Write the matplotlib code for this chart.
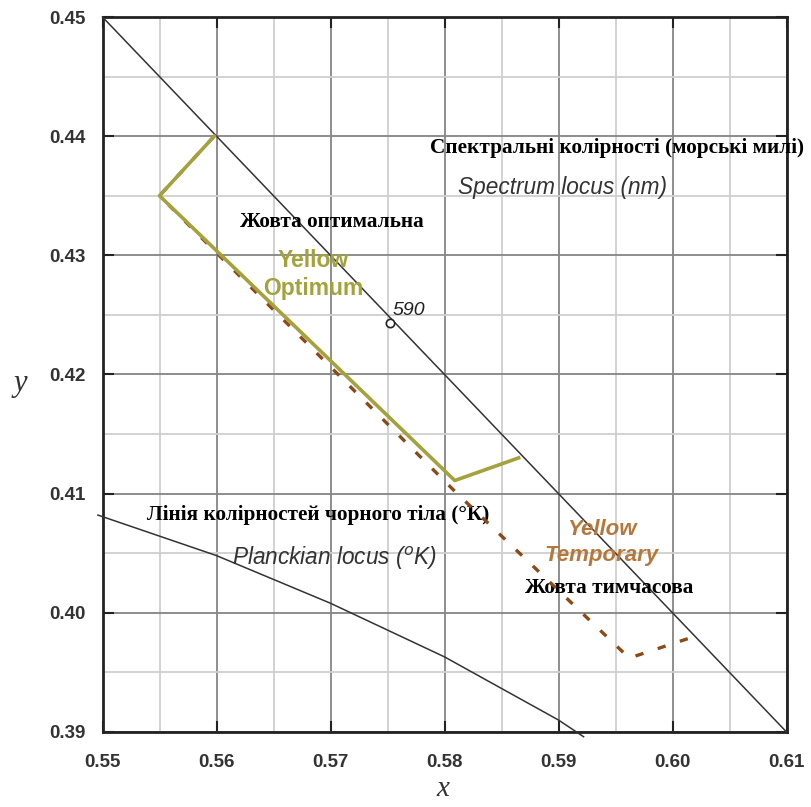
import matplotlib.pyplot as plt

# Спектральний локус (x + y = 1 в цій області) і точка 590 нм
spectrum_x = [0.55, 0.61]
spectrum_y = [0.45, 0.39]
mark_590 = (0.5752, 0.4243)

# Лінія Планка
planck_x = [0.5496, 0.56, 0.57, 0.58, 0.59, 0.5922]
planck_y = [0.4082, 0.4048, 0.4008, 0.3963, 0.3910, 0.3896]

# Жовта оптимальна
opt_x = [0.5598, 0.5550, 0.5809, 0.5865]
opt_y = [0.4400, 0.4350, 0.4111, 0.4130]

# Жовта тимчасова
temp_x = [0.5598, 0.5550, 0.5809, 0.5962, 0.6022]
temp_y = [0.4400, 0.4350, 0.4102, 0.3962, 0.3981]

x_ticks = [0.55, 0.56, 0.57, 0.58, 0.59, 0.60, 0.61]
y_ticks = [0.39, 0.40, 0.41, 0.42, 0.43, 0.44, 0.45]
x_minor = [0.555, 0.565, 0.575, 0.585, 0.595, 0.605]
y_minor = [0.395, 0.405, 0.415, 0.425, 0.435, 0.445]

fig = plt.figure(figsize=(8.11, 8.07), dpi=100)
ax = fig.add_axes([0.1264, 0.093, 0.8434, 0.8859])

ax.set_xticks(x_ticks)
ax.set_yticks(y_ticks)
ax.set_xticks(x_minor, minor=True)
ax.set_yticks(y_minor, minor=True)
ax.set_xticklabels(['%.2f' % v for v in x_ticks])
ax.set_yticklabels(['%.2f' % v for v in y_ticks])
ax.set_xlim(0.55, 0.61)
ax.set_ylim(0.39, 0.45)
ax.grid(which='minor', color='#cfcfcf', lw=1.3, zorder=0)
ax.grid(which='major', color='#858585', lw=1.3, zorder=0)
ax.set_axisbelow(True)

ax.tick_params(which='major', direction='in', length=8, width=1.5,
               top=True, right=True, color='#222222')
ax.tick_params(which='minor', length=0)
ax.tick_params(axis='x', pad=16)
ax.tick_params(axis='y', pad=12)
for lab in ax.get_xticklabels() + ax.get_yticklabels():
    lab.set_fontfamily('Liberation Sans')
    lab.set_fontweight('bold')
    lab.set_fontsize(13.5)
    lab.set_color('#333333')
for s in ax.spines.values():
    s.set_linewidth(2)
    s.set_color('#222222')

# лінії
ax.plot(spectrum_x, spectrum_y, color='#333333', lw=1.1, zorder=3, clip_on=False)
ax.plot(planck_x, planck_y, color='#333333', lw=1.1, zorder=3, clip_on=False)
ax.plot(temp_x, temp_y, color='#8b4a16', lw=2.4, zorder=4,
        dashes=(2.5, 4.5))
ax.plot(opt_x, opt_y, color='#a3a23c', lw=2.6, zorder=5)
ax.plot(*mark_590, marker='o', ms=6, mfc='white', mec='#222222', mew=1.2, zorder=6)

# підписи
serif = 'Liberation Serif'
sans = 'Liberation Sans'
ax.text(0.5754, 0.4254, '590', fontfamily=sans, style='italic',
        fontsize=14, color='#222222', va='center')
ax.text(0.5787, 0.4390, 'Спектральні колірності (морські милі)', fontfamily=serif,
        fontweight='bold', fontsize=15.3, va='center', clip_on=False)
ax.text(0.5812, 0.4357, 'Spectrum locus (nm)', fontfamily=sans, style='italic',
        fontsize=16.3, color='#333333', va='center')
ax.text(0.5621, 0.4328, 'Жовта оптимальна', fontfamily=serif,
        fontweight='bold', fontsize=15.3, va='center')
ax.text(0.5685, 0.4284, 'Yellow\nOptimum', fontfamily=sans, fontweight='bold',
        fontsize=16.5, color='#a3a23c', ha='center', va='center', linespacing=1.3)
ax.text(0.5539, 0.4082, 'Лінія колірностей чорного тіла (°К)', fontfamily=serif,
        fontweight='bold', fontsize=15.3, va='center')
ax.text(0.5614, 0.4046, r'Planckian locus ($^o$K)', fontfamily=sans, style='italic',
        fontsize=16.3, color='#333333', va='center')
ax.text(0.5938, 0.4059, 'Yellow\nTemporary', fontfamily=sans, fontweight='bold',
        style='italic', fontsize=16, color='#b5783c', ha='center', va='center',
        linespacing=1.3)
ax.text(0.5871, 0.4021, 'Жовта тимчасова', fontfamily=serif,
        fontweight='bold', fontsize=15.3, va='center')

ax.set_xlabel('x', fontfamily=serif, style='italic', fontsize=21, color='#333333')
ax.set_ylabel('y', fontfamily=serif, style='italic', fontsize=22, rotation=0,
              color='#333333')
ax.xaxis.set_label_coords(0.497, -0.062)
ax.yaxis.set_label_coords(-0.12, 0.467)

fig.savefig('out.png', dpi=100, facecolor='white')
